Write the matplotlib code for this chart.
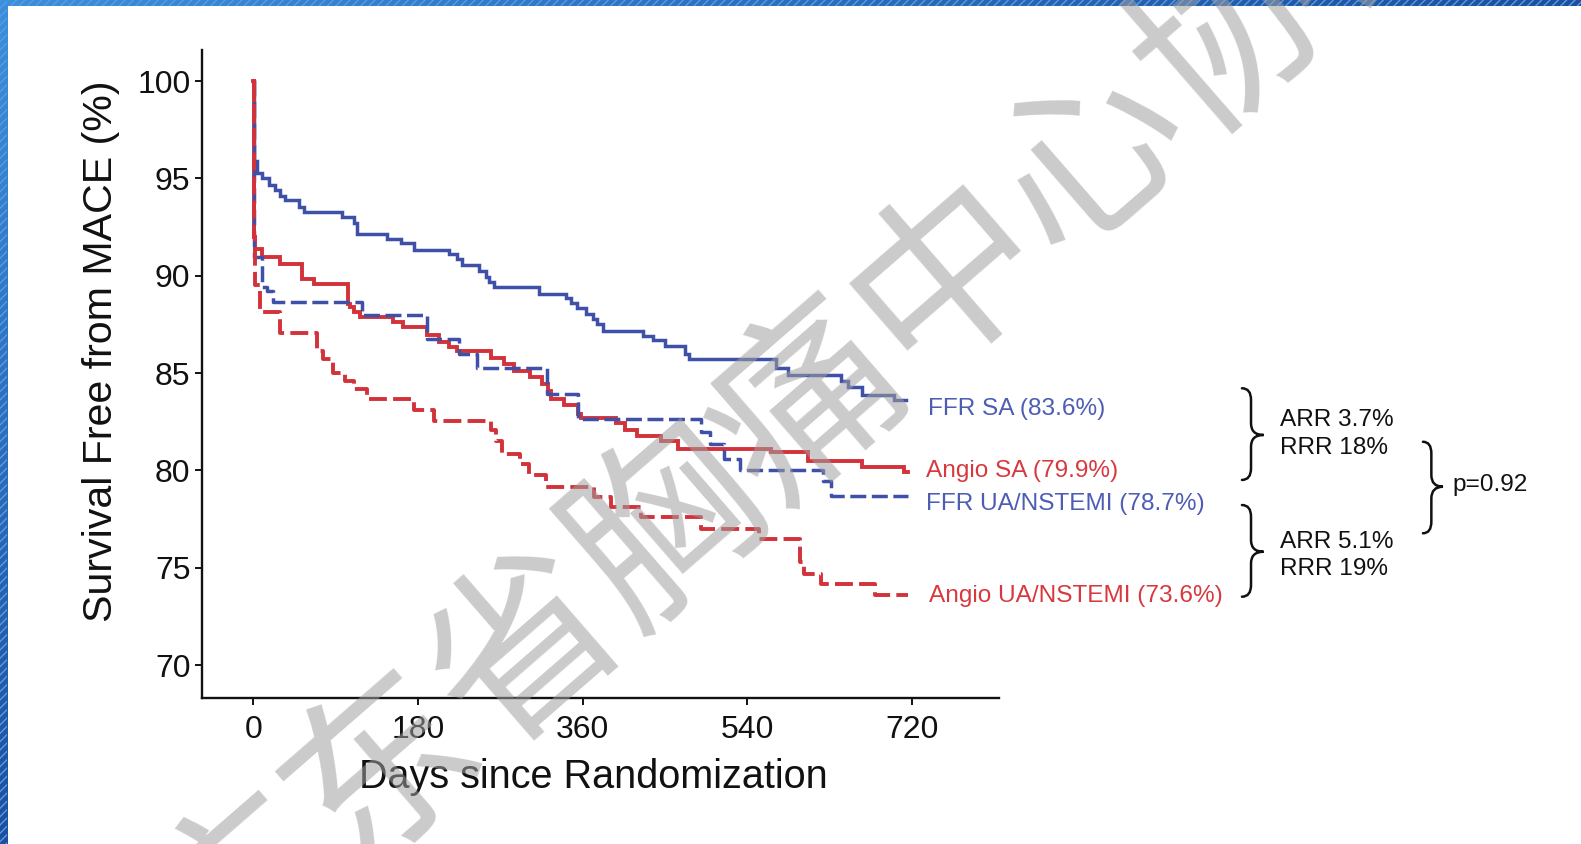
import numpy as np
import matplotlib
matplotlib.use('Agg')
import matplotlib.pyplot as plt
from matplotlib.path import Path
from matplotlib.patches import PathPatch, Rectangle
from matplotlib.colors import LinearSegmentedColormap

plt.rcParams['font.family'] = ['Liberation Sans', 'DejaVu Sans']

BLUE = '#3f50a8'
RED = '#d3323a'
BLUE_TXT = '#4d5db4'
RED_TXT = '#d8393f'
INK = '#111111'

# Kaplan-Meier steps: day of event and survival free from MACE (%) after it
ffr_sa_days = [0, 0.5, 4, 9.5, 16.8, 24, 29.6, 35, 49.6, 55, 97, 110, 113.5, 146, 161,
               175.8, 213.6, 222.8, 228.5, 246.7, 254, 258, 263.5, 312, 342, 347, 354,
               364, 371, 376, 382, 426, 437, 450, 472, 476, 572, 585, 643, 650, 665, 701, 714]
ffr_sa_surv = [100, 95.9, 95.3, 95.0, 94.64, 94.4, 94.1, 93.87, 93.53, 93.27, 93.0, 92.69,
               92.17, 91.9, 91.66, 91.3, 91.14, 90.85, 90.53, 90.27, 89.95, 89.67, 89.41,
               89.07, 88.85, 88.6, 88.32, 88.06, 87.8, 87.5, 87.15, 86.93, 86.68, 86.4,
               86.0, 85.73, 85.24, 84.88, 84.6, 84.28, 83.85, 83.6, 83.6]

angio_sa_days = [0, 0.3, 1, 2, 9.5, 29.6, 53.4, 66, 103, 106, 110, 117, 153, 164, 190, 203,
                 214, 223, 260, 274, 285, 303, 316, 322, 325, 340, 355, 358, 397, 406, 420,
                 446, 464, 566, 607, 666, 712, 716]
angio_sa_surv = [100, 93.5, 92.0, 91.39, 90.96, 90.62, 89.85, 89.59, 88.56, 88.39, 88.13,
                 87.87, 87.62, 87.36, 86.95, 86.59, 86.33, 86.16, 85.8, 85.49, 85.13, 84.79,
                 84.45, 84.1, 83.68, 83.34, 82.91, 82.7, 82.42, 82.1, 81.79, 81.5, 81.11,
                 80.94, 80.5, 80.16, 79.9, 79.9]

ffr_ua_days = [0, 0.5, 9.5, 15, 22, 119, 190, 225, 245, 321, 355, 490, 499, 515, 532, 623,
               632, 716]
ffr_ua_surv = [100, 90.96, 89.41, 89.24, 88.64, 87.96, 86.75, 86.0, 85.27, 83.94, 82.65,
               81.96, 81.37, 80.6, 80.0, 79.48, 78.7, 78.7]

angio_ua_days = [0, 0.5, 2, 7.7, 29.6, 69.7, 76, 87, 100, 110, 124.5, 175.6, 197.5, 259.6,
                 265, 272, 292, 301.5, 320, 373, 391, 424, 489, 553, 598, 602, 621, 680, 716]
angio_ua_surv = [100, 92.0, 89.5, 88.13, 87.05, 86.16, 85.7, 85.0, 84.6, 84.19, 83.68, 83.08,
                 82.53, 82.05, 81.5, 80.85, 80.34, 79.74, 79.14, 78.62, 78.1, 77.6, 77.0,
                 76.5, 75.3, 74.69, 74.17, 73.6, 73.6]

x_ticks = [0, 180, 360, 540, 720]
y_ticks = [70, 75, 80, 85, 90, 95, 100]
p_value = '0.92'

W, H = 1581, 844
fig = plt.figure(figsize=(W / 100, H / 100), dpi=100)
fig.patch.set_facecolor('white')

# slide frame: striped blue bands along the top and left edges
cmap_band = LinearSegmentedColormap.from_list('band', ['#3b8fdc', '#1c4f9f'])
top = fig.add_axes([0, 1 - 6 / H, 1, 6 / H])
top.imshow(np.linspace(0, 1, 256)[None, :], cmap=cmap_band, aspect='auto')
top.add_patch(Rectangle((-0.5, -0.5), 256, 1, facecolor='none', hatch='////',
                        edgecolor='#5b9be0', linewidth=0))
top.axis('off')
left = fig.add_axes([0, 0, 7 / W, 1])
left.imshow(np.linspace(0, 1, 256)[:, None], cmap=cmap_band, aspect='auto')
left.add_patch(Rectangle((-0.5, -0.5), 1, 256, facecolor='none', hatch='////',
                         edgecolor='#5b9be0', linewidth=0))
left.axis('off')

ax = fig.add_axes([202.3 / W, 1 - 698.3 / H, (998.5 - 202.3) / W, (698.3 - 50) / H])

series = [
    (ffr_sa_days, ffr_sa_surv, BLUE, '-', 2.5),
    (angio_sa_days, angio_sa_surv, RED, '-', 2.8),
    (ffr_ua_days, ffr_ua_surv, BLUE, '--', 2.5),
    (angio_ua_days, angio_ua_surv, RED, '--', 2.8),
]
for days, surv, color, ls, lw in series:
    line, = ax.step(days, surv, where='post', color=color, linestyle=ls, linewidth=lw,
                    solid_joinstyle='miter')
    if ls == '--':
        line.set_dashes((4.6, 1.6))

ax.set_xlim(-55.8, 814.8)
ax.set_ylim(68.29, 101.6)
ax.set_xticks(x_ticks)
ax.set_yticks(y_ticks)
ax.tick_params(axis='both', labelsize=23, length=5, width=1.4, color=INK, labelcolor=INK)
ax.tick_params(axis='y', pad=3.5)
ax.tick_params(axis='x', pad=7)
for side in ('top', 'right'):
    ax.spines[side].set_visible(False)
for side in ('left', 'bottom'):
    ax.spines[side].set_linewidth(1.7)
    ax.spines[side].set_color(INK)

ax.set_ylabel('Survival Free from MACE (%)', fontsize=29.6, color=INK)
ax.yaxis.set_label_coords(-0.1267, 0.536)
ax.yaxis.label.set_va('center')
ax.set_xlabel('Days since Randomization', fontsize=28.5, color=INK)
ax.xaxis.set_label_coords(0.491, -0.121)
ax.xaxis.label.set_va('center')

# end-of-curve labels
end_labels = [
    ('FFR SA', ffr_sa_surv[-1], 737.3, 83.18, BLUE_TXT),
    ('Angio SA', angio_sa_surv[-1], 735.1, 79.97, RED_TXT),
    ('FFR UA/NSTEMI', ffr_ua_surv[-1], 735.1, 78.27, BLUE_TXT),
    ('Angio UA/NSTEMI', angio_ua_surv[-1], 738.4, 73.55, RED_TXT),
]
for name, val, tx, ty, c in end_labels:
    ax.text(tx, ty, f'{name} ({val:.1f}%)', color=c, fontsize=17.6, ha='left',
            va='center', clip_on=False)

# absolute and relative risk reductions at 2 years
arr_sa = ffr_sa_surv[-1] - angio_sa_surv[-1]
rrr_sa = arr_sa / (100 - angio_sa_surv[-1]) * 100
arr_ua = ffr_ua_surv[-1] - angio_ua_surv[-1]
rrr_ua = arr_ua / (100 - angio_ua_surv[-1]) * 100
ax.text(1122.5, 82.59, f'ARR {arr_sa:.1f}%', fontsize=17.6, color=INK, va='center', clip_on=False)
ax.text(1122.5, 81.13, f'RRR {rrr_sa:.0f}%', fontsize=17.6, color=INK, va='center', clip_on=False)
ax.text(1122.5, 76.34, f'ARR {arr_ua:.1f}%', fontsize=17.6, color=INK, va='center', clip_on=False)
ax.text(1122.5, 74.94, f'RRR {rrr_ua:.0f}%', fontsize=17.6, color=INK, va='center', clip_on=False)
ax.text(1311.7, 79.25, f'p={p_value}', fontsize=17.6, color=INK, va='center', clip_on=False)


def brace(ax, x0, x1, y_top, y_bot, y_tip, r=0.6, frac=0.42):
    xm = x0 + (x1 - x0) * frac
    verts = [(x0, y_top), (xm, y_top), (xm, y_top - r),
             (xm, y_tip + r),
             (xm, y_tip), (x1, y_tip),
             (xm, y_tip), (xm, y_tip - r),
             (xm, y_bot + r),
             (xm, y_bot), (x0, y_bot)]
    codes = [Path.MOVETO, Path.CURVE3, Path.CURVE3,
             Path.LINETO,
             Path.CURVE3, Path.CURVE3,
             Path.CURVE3, Path.CURVE3,
             Path.LINETO,
             Path.CURVE3, Path.CURVE3]
    ax.add_patch(PathPatch(Path(verts, codes), facecolor='none', edgecolor=INK,
                           linewidth=1.8, clip_on=False, capstyle='round'))


brace(ax, 1081, 1104.6, 84.22, 79.51, 81.82)
brace(ax, 1081, 1104.6, 78.22, 73.51, 75.82)
brace(ax, 1278.9, 1300.8, 81.47, 76.77, 79.16)

# watermark
fig.text(810 / W, 1 - 404 / H, '广东省胸痛中心协会', rotation=41, rotation_mode='anchor',
         ha='center', va='center', fontsize=135, fontweight='medium', color='#a0a0a0',
         alpha=0.55, family=['Noto Sans CJK SC', 'DejaVu Sans'], zorder=10)

fig.savefig('out.png', dpi=100)
